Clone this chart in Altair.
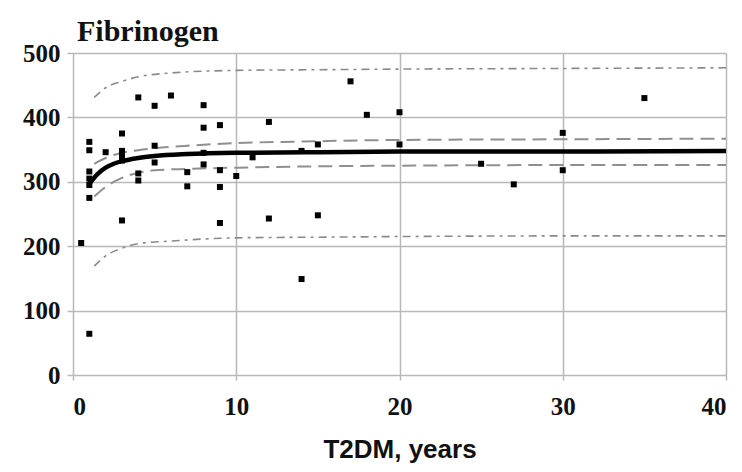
import altair as alt
import pandas as pd

# scatter data (T2DM years, fibrinogen)
pt_x = [0.5, 1, 1, 1, 1, 1, 1, 1, 2, 3, 3, 3, 3, 3, 4, 4, 4, 5, 5, 5, 6, 7, 7,
        8, 8, 8, 8, 9, 9, 9, 9, 10, 11, 12, 12, 14, 14, 15, 15, 17, 18, 20, 20,
        25, 27, 30, 30, 35]
pt_y = [205, 362, 349, 316, 305, 295, 275, 64, 346, 375, 348, 340, 333, 240, 431, 313, 302,
        418, 356, 330, 434, 315, 293, 419, 384, 345, 327, 388, 318, 292, 236, 309, 338,
        393, 243, 348, 149, 358, 248, 456, 404, 408, 358, 328, 296, 376, 318, 430]

# fitted mean curve
fit_x = [1, 1.5, 2, 2.5, 3, 4, 5, 7, 10, 15, 20, 30, 40]
fit_y = [297, 312, 322, 328, 332, 337, 340, 343, 345, 346, 347, 347, 348]

# confidence band
ci_x = [1.3, 2, 3, 4, 5, 7, 10, 15, 20, 30, 40]
ci_up = [328, 337, 345, 349, 352, 356, 360, 363, 365, 366, 367]
ci_lo = [277, 292, 306, 314, 318, 320, 322, 324, 325, 326, 326]

# prediction band
pi_x = [1.3, 2, 3, 4, 6, 10, 15, 20, 30, 40]
pi_up = [431, 446, 456, 463, 469, 473, 474, 475, 476, 477]
pi_lo = [169, 185, 197, 204, 208, 213, 214, 215, 216, 216]

pts = pd.DataFrame({"x": pt_x, "y": pt_y})
fit = pd.DataFrame({"x": fit_x, "y": fit_y})
ci = pd.concat([
    pd.DataFrame({"x": ci_x, "y": ci_up, "band": "up"}),
    pd.DataFrame({"x": ci_x, "y": ci_lo, "band": "lo"}),
])
pi = pd.concat([
    pd.DataFrame({"x": pi_x, "y": pi_up, "band": "up"}),
    pd.DataFrame({"x": pi_x, "y": pi_lo, "band": "lo"}),
])

serif = "Liberation Serif"
sans = "Liberation Sans"
grid = "#b8b8b8"

xscale = alt.Scale(domain=[0, 40], nice=False, zero=False)
yscale = alt.Scale(domain=[0, 500], nice=False)

xax = alt.Axis(values=[0, 10, 20, 30, 40], title="T2DM, years", grid=True,
               gridColor=grid, gridWidth=1.5, domain=False,
               tickColor=grid, tickSize=5, tickWidth=1.5,
               labelFont=serif, labelFontSize=25, labelFontWeight="bold",
               labelColor="#111", labelPadding=14,
               titleFont=sans, titleFontSize=26, titleFontWeight="bold",
               titleColor="#111", titlePadding=17)
yax = alt.Axis(values=[0, 100, 200, 300, 400, 500], title=None, grid=True,
               gridColor=grid, gridWidth=1.5, domain=False,
               tickColor=grid, tickSize=6, tickWidth=1.5,
               labelFont=serif, labelFontSize=25, labelFontWeight="bold",
               labelColor="#111", labelPadding=7)

base_x = alt.X("x:Q", scale=xscale, axis=xax)
base_y = alt.Y("y:Q", scale=yscale, axis=yax)

pred = alt.Chart(pi).mark_line(color="#8a8a8a", strokeWidth=1.6,
                               strokeDash=[8, 5, 3, 5], interpolate="monotone").encode(
    x=base_x, y=base_y, detail="band:N")
conf = alt.Chart(ci).mark_line(color="#8f8f8f", strokeWidth=2,
                               strokeDash=[14, 7], interpolate="monotone").encode(
    x=base_x, y=base_y, detail="band:N")
mean = alt.Chart(fit).mark_line(color="#000", strokeWidth=4.5,
                                interpolate="monotone").encode(x=base_x, y=base_y)
dots = alt.Chart(pts).mark_point(shape="square", filled=True, color="#000",
                                 size=36, opacity=1).encode(x=base_x, y=base_y)

chart = alt.layer(pred, conf, mean, dots).properties(
    width=653, height=322,
    title=alt.TitleParams("Fibrinogen", anchor="start", frame="group",
                          font=serif, fontSize=30, fontWeight="bold",
                          color="#111", dx=4, dy=10, offset=4),
    autosize=alt.AutoSizeParams(type="none"),
    padding={"left": 65, "top": 45, "right": 8, "bottom": 88},
    background="white",
).configure_view(stroke=None)

chart.save("out.html", embed_options={"renderer": "svg", "actions": False})
